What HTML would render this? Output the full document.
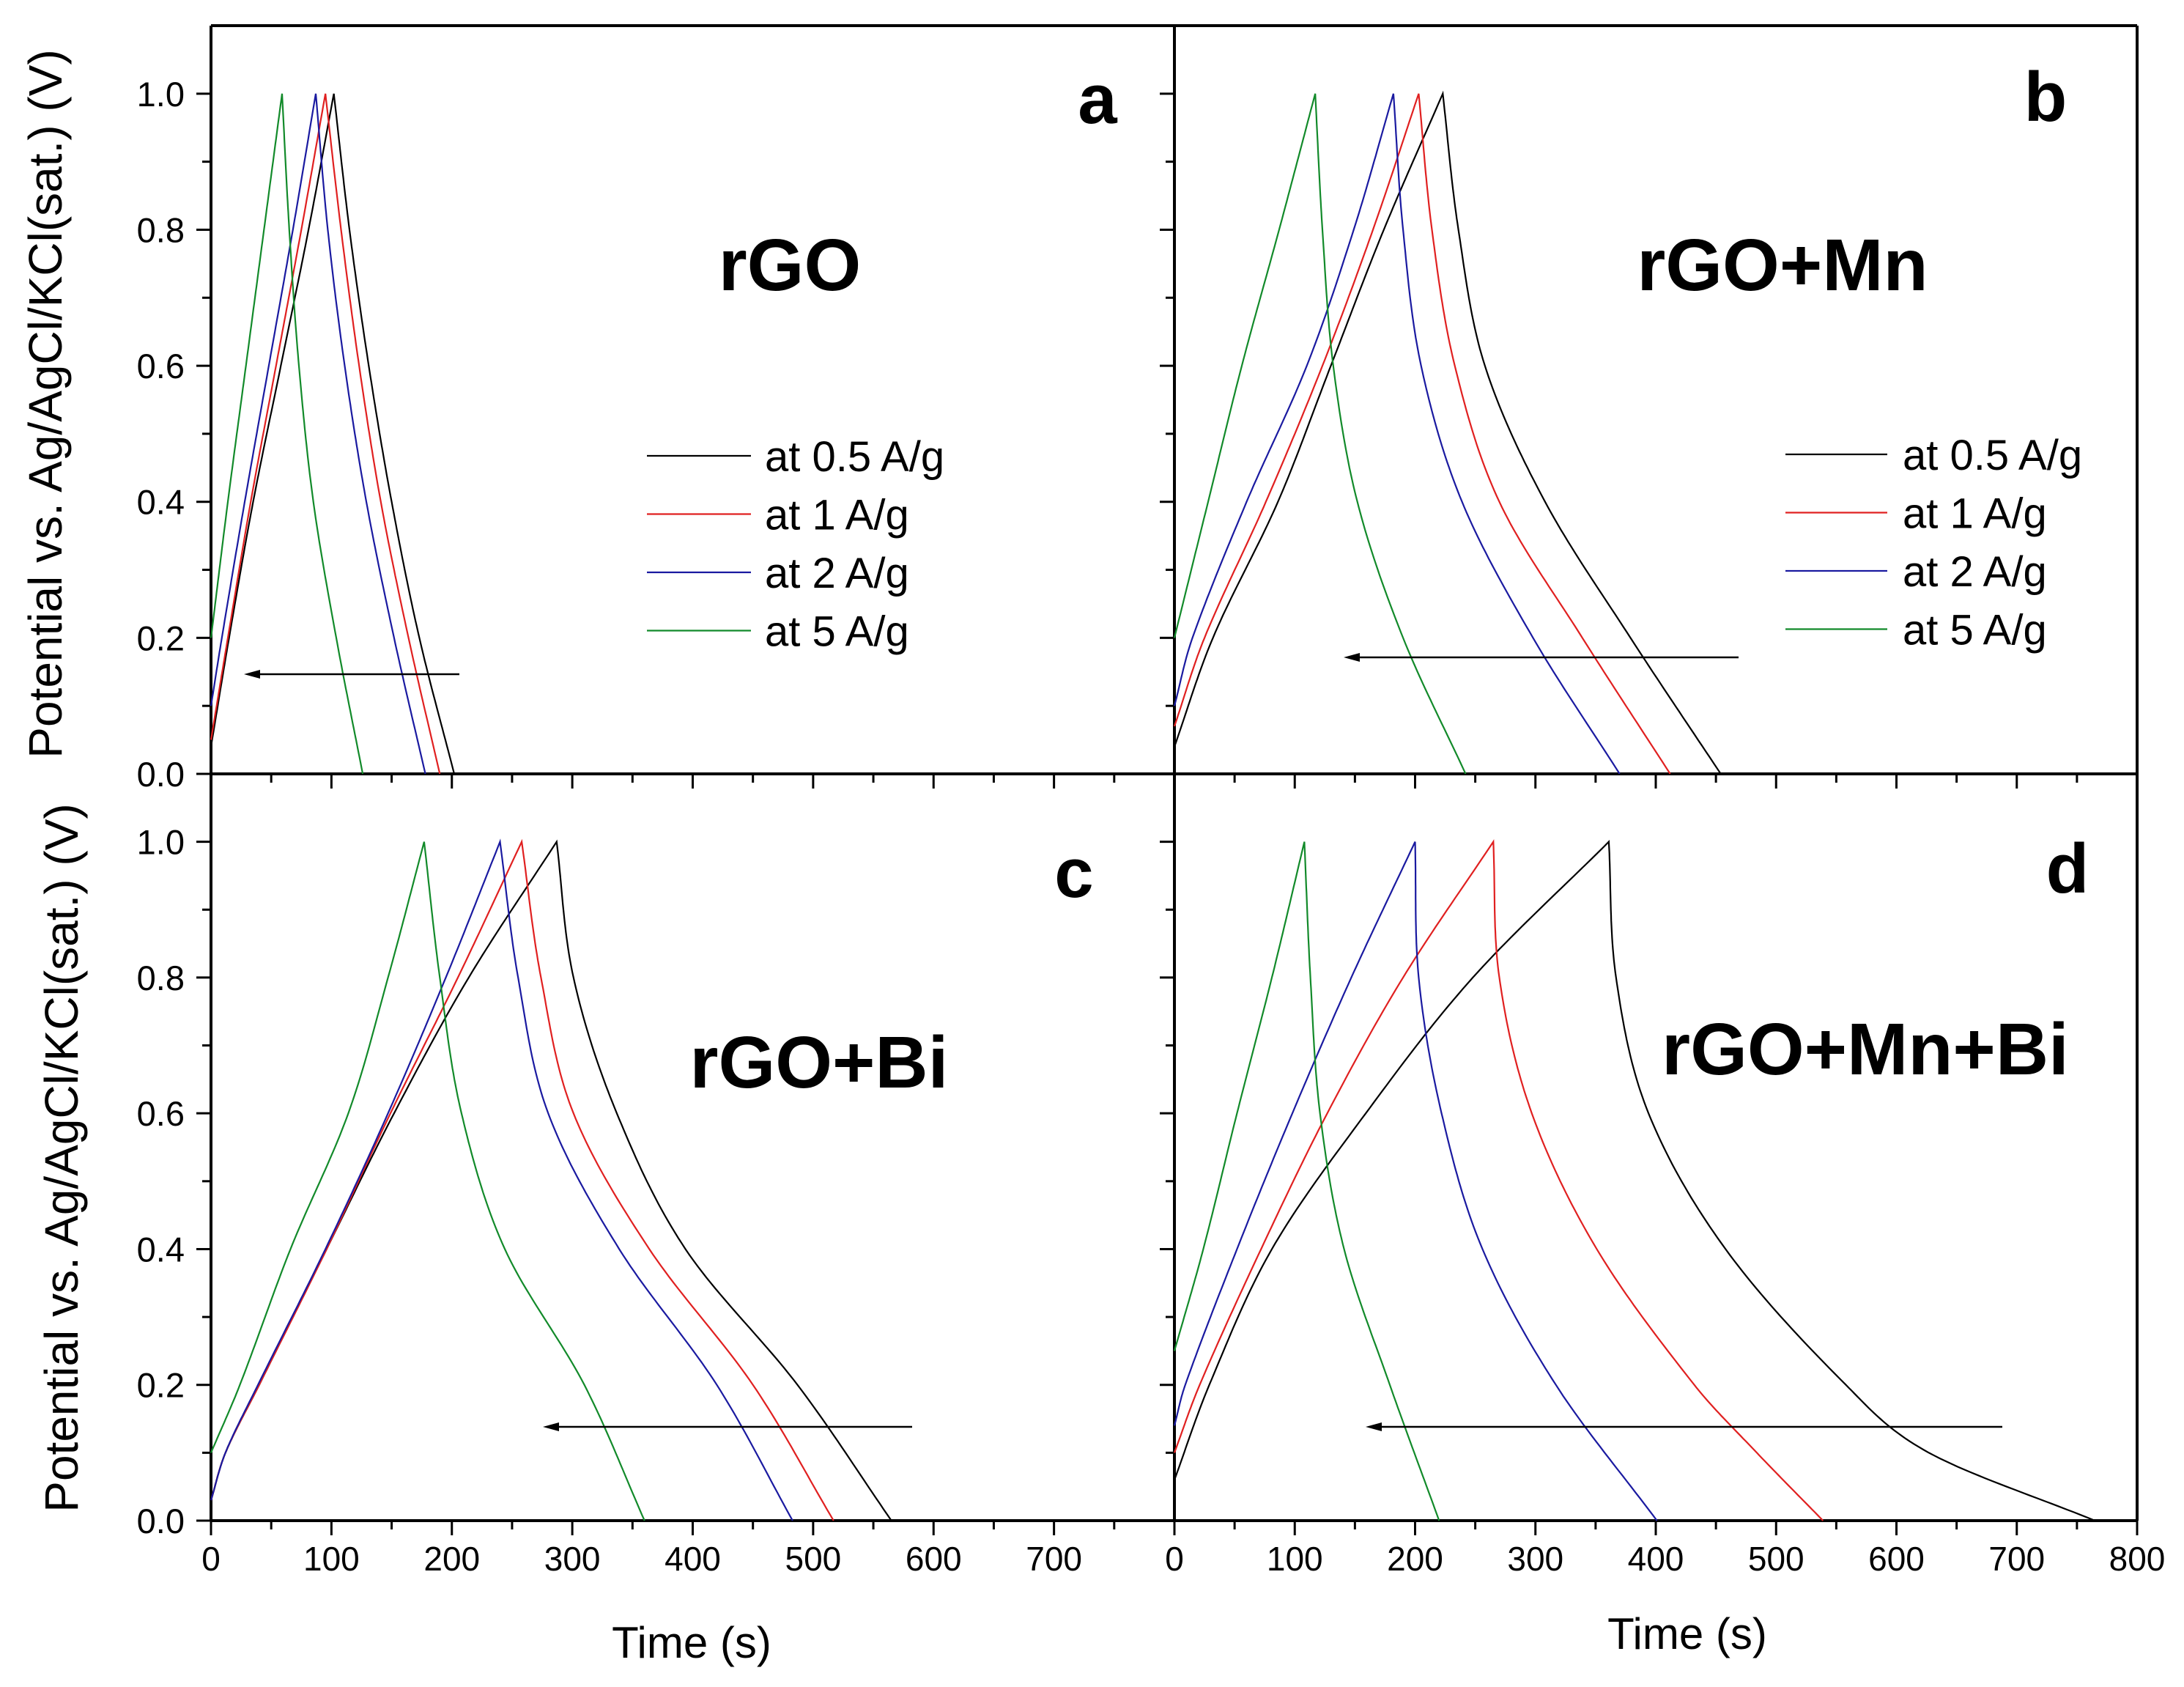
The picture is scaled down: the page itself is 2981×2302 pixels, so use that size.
<!DOCTYPE html>
<html><head><meta charset="utf-8"><style>
html,body{margin:0;padding:0;background:#fff;}
svg{display:block;font-family:"Liberation Sans",Arial,sans-serif;}
</style></head><body>
<svg id="chart" width="2981" height="2302" viewBox="0 0 2981 2302" xmlns="http://www.w3.org/2000/svg">
<rect width="2981" height="2302" fill="#fff"/>
<g id="axes"></g>
<g id="plots"></g>
<g id="annot"></g>
</svg>
<script>
// ---- data ----
const seriesLabels = ["at 0.5 A/g","at 1 A/g","at 2 A/g","at 5 A/g"];
const seriesColors = ["#000000","#e02020","#1a1aa0","#128a2a"];
const xTicks = [0,100,200,300,400,500,600,700,800];
const yTicks = [0.0,0.2,0.4,0.6,0.8,1.0];

// panel a (rGO)
const aChargeV = [[0.04,0.2,0.4,0.6,0.8,1.0],[0.05,0.2,0.4,0.6,0.8,1.0],[0.1,0.2,0.4,0.6,0.8,1.0],[0.2,0.4,0.6,0.8,1.0]];
const aChargeT = [[0,15,35,58,81,102],[0,14,33,54,75,95],[0,9,28,48,68,87],[0,14,29,44,59]];
const aDisV = [[1.0,0.8,0.6,0.4,0.2,0.0],[1.0,0.8,0.6,0.4,0.2,0.0],[1.0,0.8,0.6,0.4,0.2,0.0],[1.0,0.8,0.6,0.4,0.2,0.0]];
const aDisT = [[102,115,131,150,173,202],[95,108,123,141,164,190],[87,97,111,129,152,178],[59,65,73,85,104,126]];

// panel b (rGO+Mn)
const bChargeV = [[0.04,0.2,0.4,0.6,0.8,1.0],[0.07,0.2,0.4,0.6,0.8,1.0],[0.1,0.2,0.4,0.6,0.8,1.0],[0.2,0.4,0.6,0.8,1.0]];
const bChargeT = [[0,32,86,130,174,223],[0,25,76,123,165,203],[0,15,60,110,149,182],[0,28,56,87,117]];
const bDisV = [[1.0,0.8,0.6,0.4,0.2,0.0],[1.0,0.8,0.6,0.4,0.2,0.0],[1.0,0.8,0.6,0.4,0.2,0.0],[1.0,0.8,0.6,0.4,0.2,0.0]];
const bDisT = [[223,236,258,308,379,454],[203,214,233,270,339,412],[182,190,205,239,298,370],[117,123,132,152,190,242]];

// panel c (rGO+Bi)
const cChargeV = [[0.03,0.1,0.2,0.4,0.6,0.8,1.0],[0.03,0.1,0.2,0.4,0.6,0.8,1.0],[0.03,0.1,0.2,0.4,0.6,0.8,1.0],[0.1,0.2,0.4,0.6,0.8,1.0]];
const cChargeT = [[0,12,40,96,152,214,287],[0,12,40,96,149,205,258],[0,12,39,95,147,195,240],[0,24,66,114,147,177]];
const cDisV = [[1.0,0.8,0.6,0.4,0.2,0.0],[1.0,0.8,0.6,0.4,0.2,0.0],[1.0,0.8,0.6,0.4,0.2,0.0],[1.0,0.8,0.6,0.4,0.2,0.0]];
const cDisT = [[287,301,337,394,487,565],[258,274,301,364,450,517],[240,255,280,339,420,483],[177,190,208,244,310,360]];

// panel d (rGO+Mn+Bi)
const dChargeV = [[0.06,0.2,0.4,0.6,0.8,1.0],[0.1,0.2,0.4,0.6,0.8,1.0],[0.14,0.2,0.4,0.6,0.8,1.0],[0.25,0.4,0.6,0.8,1.0]];
const dChargeT = [[0,29,81,159,248,361],[0,21,72,127,190,265],[0,9,52,98,147,200],[0,24,52,81,108]];
const dDisV = [[1.0,0.8,0.6,0.4,0.2,0.1,0.0],[1.0,0.8,0.6,0.4,0.2,0.1,0.0],[1.0,0.8,0.6,0.4,0.2,0.0],[1.0,0.8,0.6,0.4,0.2,0.0]];
const dDisT = [[361,367,394,458,558,627,765],[265,270,297,351,432,484,539],[200,203,222,256,317,401],[108,113,121,141,179,220]];

const NS = "http://www.w3.org/2000/svg";
function mk(tag, attrs, parent){const e=document.createElementNS(NS,tag);for(const k in attrs)e.setAttribute(k,attrs[k]);parent.appendChild(e);return e;}
const axesG=document.getElementById('axes'), plotsG=document.getElementById('plots'), annG=document.getElementById('annot');

const panels = [
 {id:'a',x0:288,y0:35,w:1315,h:1021,cv:aChargeV,ct:aChargeT,dv:aDisV,dt:aDisT,left:true,bottom:false},
 {id:'b',x0:1603,y0:35,w:1314,h:1021,cv:bChargeV,ct:bChargeT,dv:bDisV,dt:bDisT,left:false,bottom:false},
 {id:'c',x0:288,y0:1056,w:1315,h:1019,cv:cChargeV,ct:cChargeT,dv:cDisV,dt:cDisT,left:true,bottom:true,xlab:7},
 {id:'d',x0:1603,y0:1056,w:1314,h:1019,cv:dChargeV,ct:dChargeT,dv:dDisV,dt:dDisT,left:false,bottom:true,xlab:8}
];

// smooth cubic Hermite of t as function of V (centered slopes), sampled densely
function smoothSample(V,T){
  let vs=V.slice(), ts=T.slice();
  const rev=vs[0]>vs[vs.length-1];
  if(rev){vs.reverse();ts.reverse();}
  const n=vs.length, m=new Array(n);
  m[0]=(ts[1]-ts[0])/(vs[1]-vs[0]);
  m[n-1]=(ts[n-1]-ts[n-2])/(vs[n-1]-vs[n-2]);
  for(let i=1;i<n-1;i++) m[i]=(ts[i+1]-ts[i-1])/(vs[i+1]-vs[i-1]);
  const out=[];
  for(let i=0;i<n-1;i++){
    const h=vs[i+1]-vs[i];
    for(let k=0;k<24;k++){
      const u=k/24, h00=2*u*u*u-3*u*u+1, h10=u*u*u-2*u*u+u, h01=-2*u*u*u+3*u*u, h11=u*u*u-u*u;
      out.push([vs[i]+u*h, h00*ts[i]+h10*h*m[i]+h01*ts[i+1]+h11*h*m[i+1]]);
    }
  }
  out.push([vs[n-1],ts[n-1]]);
  if(rev) out.reverse();
  return out;
}

panels.forEach(p=>{
  const X=t=>p.x0+t/800*p.w;
  const Y=v=>p.y0+p.h-v/1.1*p.h;
  const yb=p.y0+p.h;
  for(let t=0;t<=800;t+=50){
    const major=t%100===0;
    const tk=mk('line',{x1:X(t),x2:X(t),y1:yb,y2:yb+(major?20:12),stroke:'#000','stroke-width':3},axesG);
    
    
  }
  for(let i=0;i<=10;i++){
    const v=i/10, major=i%2===0;
    const tk=mk('line',{x1:p.x0,x2:p.x0-(major?20:12),y1:Y(v),y2:Y(v),stroke:'#000','stroke-width':3},axesG);
    
    
  }
  if(p.left){
    yTicks.forEach(v=>{
      const tx=mk('text',{x:252,y:Y(v)+17,'font-size':47,'text-anchor':'end',fill:'#000'},axesG);
      tx.textContent=v.toFixed(1);
      
      
    });
  }
  if(p.bottom){
    xTicks.forEach(t=>{
      if(t/100>p.xlab) return;
      const tx=mk('text',{x:X(t),y:2143,'font-size':46,'text-anchor':'middle',fill:'#000'},axesG);
      tx.textContent=String(t);
      
      
    });
  }
  for(let s=0;s<4;s++){
    const pts=smoothSample(p.cv[s],p.ct[s]).concat(smoothSample(p.dv[s],p.dt[s]).slice(1));
    const d='M'+pts.map(q=>X(q[1]).toFixed(1)+','+Y(q[0]).toFixed(1)).join(' L');
    const path=mk('path',{d:d,fill:'none',stroke:seriesColors[s],'stroke-width':2.2},plotsG);
    
    
  }
});

[[288,35,2917,35],[288,35,288,2075],[1603,35,1603,2075],[2917,35,2917,2075],[288,1056,2917,1056],[288,2075,2917,2075]].forEach(l=>{
  const ln=mk('line',{x1:l[0],y1:l[1],x2:l[2],y2:l[3],stroke:'#000','stroke-width':4},axesG);
  
  
});

function txt(s,x,y,size,opts,name){
  const t=mk('text',Object.assign({x:x,y:y,'font-size':size,fill:'#000'},opts||{}),annG);
  t.textContent=s;
  
  
  return t;
}
txt('Potential vs. Ag/AgCl/KCl(sat.) (V)',0,0,64,{transform:'translate(84,551) rotate(-90)','text-anchor':'middle'},'y-axis-title-top');
txt('Potential vs. Ag/AgCl/KCl(sat.) (V)',0,0,64,{transform:'translate(106,1580) rotate(-90)','text-anchor':'middle'},'y-axis-title-bottom');
txt('Time (s)',944,2262,60,{'text-anchor':'middle'},'x-axis-title-left');
txt('Time (s)',2303,2250,60,{'text-anchor':'middle'},'x-axis-title-right');
txt('a',1498,168,96,{'font-weight':'bold','text-anchor':'middle'},'panel-label-a');
txt('b',2792,165,96,{'font-weight':'bold','text-anchor':'middle'},'panel-label-b');
txt('c',1466,1224,96,{'font-weight':'bold','text-anchor':'middle'},'panel-label-c');
txt('d',2822,1218,96,{'font-weight':'bold','text-anchor':'middle'},'panel-label-d');
txt('rGO',1078,396,100,{'font-weight':'bold','text-anchor':'middle'},'sample-label-rgo');
txt('rGO+Mn',2433,396,100,{'font-weight':'bold','text-anchor':'middle'},'sample-label-rgo-mn');
txt('rGO+Bi',1118,1484,100,{'font-weight':'bold','text-anchor':'middle'},'sample-label-rgo-bi');
txt('rGO+Mn+Bi',2546,1466,100,{'font-weight':'bold','text-anchor':'middle'},'sample-label-rgo-mn-bi');

[[883,1025,622,1044],[2437,2576,620,2597]].forEach(L=>{
  for(let s=0;s<4;s++){
    const y=L[2]+s*79.5;
    const ln=mk('line',{x1:L[0],x2:L[1],y1:y,y2:y,stroke:seriesColors[s],'stroke-width':2.2},annG);
    
    
    txt(seriesLabels[s],L[3],y+21,58,{},'legend-entry');
  }
});

[[627,333,920],[2373,1834,897],[1245,741,1947],[2733,1864,1947]].forEach(a=>{
  const ln=mk('line',{x1:a[0],x2:a[1]+10,y1:a[2],y2:a[2],stroke:'#000','stroke-width':2.5},annG);
  
  
  const hd=mk('polygon',{points:(a[1])+','+a[2]+' '+(a[1]+22)+','+(a[2]-6)+' '+(a[1]+22)+','+(a[2]+6),fill:'#000'},annG);
  
  
});
</script>
</body></html>
